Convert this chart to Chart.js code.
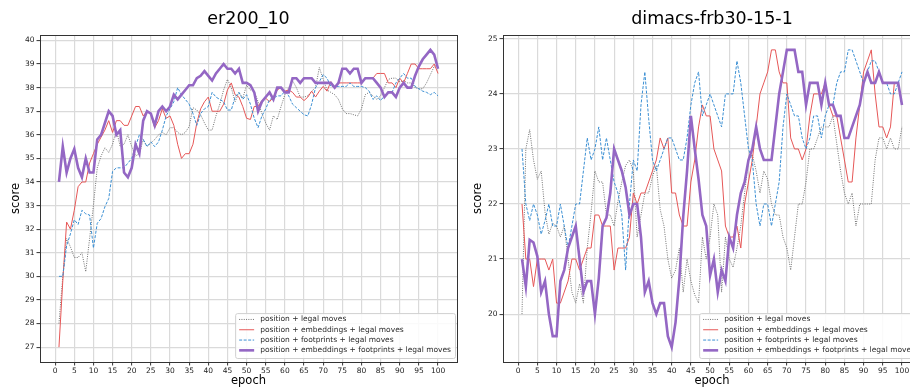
<!DOCTYPE html>
<html>
<head>
<meta charset="utf-8">
<script src="https://cdn.jsdelivr.net/npm/chart.js"></script>
<style>
  html, body { margin: 0; padding: 0; background: #fff; }
  #wrap { position: relative; width: 910px; height: 390px; overflow: hidden; }
  canvas { position: absolute; top: 0; }
</style>
</head>
<body>
<div id="wrap">
  <canvas id="left" width="460" height="390" style="left:0"></canvas>
  <canvas id="right" width="464" height="390" style="left:460px"></canvas>
</div>
<script>
// epochs 1..100
const epochs = [1,2,3,4,5,6,7,8,9,10,11,12,13,14,15,16,17,18,19,20,
  21,22,23,24,25,26,27,28,29,30,31,32,33,34,35,36,37,38,39,40,
  41,42,43,44,45,46,47,48,49,50,51,52,53,54,55,56,57,58,59,60,
  61,62,63,64,65,66,67,68,69,70,71,72,73,74,75,76,77,78,79,80,
  81,82,83,84,85,86,87,88,89,90,91,92,93,94,95,96,97,98,99,100];

const seriesNames = [
  'position + legal moves',
  'position + embeddings + legal moves',
  'position + footprints + legal moves',
  'position + embeddings + footprints + legal moves'
];

const xTicks = [0,5,10,15,20,25,30,35,40,45,50,55,60,65,70,75,80,85,90,95,100];
const erTicks = [27,28,29,30,31,32,33,34,35,36,37,38,39,40];
const frbTicks = [20,21,22,23,24,25];

// er200_10
const erPos = [28.0,30.0,31.6,31.25,30.8,30.8,31.0,30.2,31.6,33.0,
  34.6,35.1,35.45,35.25,35.6,36.2,35.5,35.6,36.0,35.5,
  35.1,35.2,35.8,35.5,35.65,35.8,36.0,36.1,36.0,36.3,
  36.3,36.1,36.0,36.1,36.35,37.15,37.05,36.85,36.5,36.2,
  36.2,36.8,37.3,37.9,38.35,38.0,37.4,37.8,37.55,38.1,
  37.9,37.85,37.4,36.9,36.5,36.2,36.8,36.65,37.2,37.7,
  38.0,38.3,38.0,37.6,37.6,37.65,37.85,38.0,38.85,38.35,
  37.9,37.8,37.7,37.5,37.1,36.9,36.9,36.85,36.8,37.1,
  37.7,37.8,37.65,37.5,37.65,38.0,38.35,38.4,38.4,38.25,
  38.3,38.2,38.2,38.0,37.95,37.95,38.2,38.55,38.9,39.0];
const erPosEmb = [27.0,29.8,32.3,32.0,32.8,33.8,34.0,34.0,34.8,35.2,
  35.6,35.9,36.2,36.6,36.1,36.6,36.6,36.4,36.4,36.8,
  37.2,37.2,36.8,37.0,36.9,36.3,36.6,37.1,36.7,36.8,
  36.4,35.6,35.0,35.2,35.2,35.6,36.5,37.1,37.4,37.6,
  37.0,37.0,37.0,37.3,37.9,38.2,37.7,37.6,37.2,36.7,
  36.65,37.2,37.2,37.45,37.55,37.4,37.6,37.9,38.0,37.85,
  37.9,37.8,37.6,37.6,37.45,37.6,37.85,37.6,37.85,38.05,
  37.85,38.25,38.0,38.2,38.2,38.2,38.2,38.2,38.2,38.2,
  38.4,38.4,38.4,38.6,38.6,38.6,38.2,38.2,38.0,38.4,
  38.2,38.6,39.0,39.0,38.8,38.8,38.8,38.8,39.0,38.6];
const erPosFoot = [30.0,30.0,31.3,31.8,32.4,32.2,32.8,32.65,32.6,31.2,
  32.25,32.45,32.95,33.3,34.45,34.6,34.6,34.6,34.8,35.0,
  35.5,36.0,35.8,35.5,35.7,35.5,35.7,36.2,36.8,37.1,
  37.4,38.0,37.7,37.5,37.3,36.9,36.4,36.9,37.1,37.2,
  37.8,37.6,37.5,37.4,37.05,37.05,37.6,37.8,37.5,37.7,
  37.3,36.7,36.3,36.8,37.1,37.5,37.55,37.65,37.65,37.85,
  37.65,37.3,37.15,37.0,36.85,36.8,37.3,38.0,38.25,38.55,
  38.4,38.05,38.05,38.05,38.05,38.05,38.2,38.05,38.05,38.05,
  38.0,37.85,37.5,37.65,37.45,37.65,37.8,37.8,38.2,38.4,
  38.6,38.4,38.4,38.05,37.95,37.85,37.8,37.7,37.8,37.65];
const erPosEmbFoot = [34.0,35.5,34.4,35.0,35.4,34.6,34.2,35.0,34.4,34.4,
  35.8,36.0,36.5,37.0,36.8,36.0,36.2,34.4,34.2,34.6,
  35.6,35.2,36.6,37.0,36.9,36.4,37.0,37.2,37.0,37.2,
  37.7,37.5,37.7,37.9,38.1,38.1,38.4,38.5,38.7,38.5,
  38.3,38.6,38.8,39.0,38.8,38.8,38.6,38.8,38.2,38.2,
  38.1,37.8,37.0,37.4,37.6,37.8,37.5,38.0,38.0,37.8,
  37.8,38.4,38.4,38.2,38.4,38.4,38.4,38.2,38.2,38.2,
  38.2,38.2,38.0,38.2,38.8,38.8,38.6,38.8,38.8,38.2,
  38.4,38.4,38.4,38.2,38.0,37.6,37.8,37.8,37.6,38.0,
  38.2,38.0,38.0,38.5,38.9,39.2,39.4,39.6,39.4,38.8];

// dimacs-frb30-15-1
const frbPos = [20.0,23.0,23.35,22.8,22.45,22.6,21.85,21.45,21.65,21.6,
  21.4,21.6,21.0,20.4,20.2,20.55,20.2,21.2,21.85,22.6,
  22.4,22.4,21.8,21.8,21.6,22.05,22.4,22.7,22.8,22.6,
  21.4,21.8,22.2,22.2,22.5,22.7,21.9,21.6,21.0,20.65,
  20.8,21.2,20.4,21.0,20.6,20.35,20.2,21.4,21.0,21.4,
  22.0,21.8,20.4,21.4,21.0,20.85,21.2,21.6,22.2,22.8,
  22.9,22.6,22.2,22.6,22.45,22.0,21.8,21.8,21.4,21.2,
  20.8,21.4,22.0,22.0,22.4,23.0,23.0,23.2,23.4,23.4,
  23.4,23.6,23.1,22.6,22.2,22.0,22.2,21.6,22.0,22.0,
  22.0,22.0,22.8,23.2,23.2,23.0,23.2,23.0,23.0,23.4];
const frbPosEmb = [22.0,21.0,21.0,20.5,21.0,21.0,21.0,20.8,21.0,20.2,
  20.2,20.4,20.6,21.0,21.0,20.8,21.0,21.2,21.2,21.8,
  21.8,21.6,21.6,21.6,20.8,21.2,21.2,21.2,21.4,22.2,
  22.0,22.2,22.2,22.4,22.6,22.8,23.2,23.0,23.2,22.2,
  22.2,21.8,21.6,21.6,22.4,22.8,23.4,23.8,23.6,23.6,
  23.0,22.8,22.6,21.6,21.4,21.4,21.6,21.2,22.0,22.4,
  22.8,23.4,24.0,24.2,24.4,24.8,24.8,24.4,24.2,24.2,
  23.2,23.0,23.0,22.8,23.0,23.6,24.0,24.0,24.0,24.2,
  23.8,23.6,23.6,23.2,22.8,22.4,22.4,23.2,23.8,24.4,
  24.6,24.8,24.0,23.4,23.4,23.2,23.4,24.2,24.2,23.8];
const frbPosFoot = [23.0,22.0,21.7,22.0,21.8,21.45,21.7,22.0,21.6,21.6,
  22.0,21.6,21.2,21.6,22.0,22.0,22.6,23.2,22.8,23.0,
  23.4,22.8,23.2,22.8,22.4,22.2,21.8,20.8,22.0,22.8,
  22.6,23.8,24.4,23.55,22.8,22.6,22.8,23.0,23.2,23.2,
  23.0,22.8,22.8,23.2,23.8,24.2,24.4,23.6,23.8,24.0,
  23.8,23.6,23.4,24.0,24.0,24.0,24.6,24.2,23.6,23.0,
  22.8,22.0,21.6,22.0,22.0,21.6,22.0,22.4,23.4,24.0,
  23.8,23.6,23.6,23.2,23.0,23.2,23.6,23.6,23.2,23.6,
  23.8,23.8,24.2,24.4,24.4,24.8,24.8,24.6,24.4,24.2,
  24.4,24.6,24.6,24.4,24.2,24.2,24.0,24.0,24.2,24.4];
const frbPosEmbFoot = [21.0,20.5,21.35,21.3,21.05,20.4,20.6,20.0,19.6,19.6,
  20.6,20.8,21.2,21.4,21.6,21.0,20.4,20.6,20.6,20.0,
  20.65,21.6,21.75,22.2,23.0,22.8,22.6,22.3,21.8,22.0,
  22.0,21.4,20.4,20.6,20.2,20.0,20.2,20.2,19.6,19.4,
  19.85,20.65,21.77,22.6,23.6,23.0,22.45,21.8,21.6,20.7,
  21.0,20.4,20.8,20.6,21.4,21.2,21.8,22.2,22.4,22.8,
  23.0,23.4,23.0,22.8,22.8,22.8,23.4,24.0,24.4,24.8,
  24.8,24.8,24.4,24.4,23.8,24.2,24.2,24.2,23.8,24.2,
  23.8,23.8,23.6,23.6,23.2,23.2,23.4,23.6,23.8,24.2,
  24.4,24.2,24.2,24.4,24.2,24.2,24.2,24.2,24.2,23.8];

const FONT = '"DejaVu Sans", sans-serif';

// khung truc (4 canh nhu matplotlib)
const frame = {
  id: 'frame',
  afterDatasetsDraw(chart) {
    const a = chart.chartArea, ctx = chart.ctx;
    ctx.save();
    ctx.strokeStyle = '#333';
    ctx.lineWidth = 1;
    ctx.strokeRect(Math.round(a.left) + 0.5, Math.round(a.top) + 0.5,
      Math.round(a.right - a.left), Math.round(a.bottom - a.top));
    ctx.restore();
  }
};

// chu thich o goc duoi phai
const boxLegend = {
  id: 'boxLegend',
  afterDraw(chart) {
    const ctx = chart.ctx, a = chart.chartArea;
    const sets = chart.data.datasets;
    ctx.save();
    ctx.font = '7.5px ' + FONT;
    const textW = Math.max(...sets.map(d => ctx.measureText(d.label).width));
    const rowH = 10.3, padX = 4, lineW = 15, gap = 6;
    const w = padX + lineW + gap + textW + padX;
    const h = sets.length * rowH + 3.7;
    const x = a.right - 2 - w, y = a.bottom - 4 - h;
    ctx.beginPath();
    ctx.roundRect(x + 0.5, y + 0.5, w, h, 2);
    ctx.fillStyle = 'rgba(255,255,255,0.85)';
    ctx.fill();
    ctx.strokeStyle = '#d0d0d0';
    ctx.lineWidth = 1;
    ctx.stroke();
    sets.forEach((d, i) => {
      const cy = y + 1.2 + rowH * i + rowH / 2;
      ctx.beginPath();
      ctx.setLineDash(d.borderDash || []);
      ctx.lineWidth = d.borderWidth;
      ctx.strokeStyle = d.borderColor;
      ctx.moveTo(x + padX, cy);
      ctx.lineTo(x + padX + lineW, cy);
      ctx.stroke();
      ctx.setLineDash([]);
      ctx.fillStyle = '#2a2a2a';
      ctx.textBaseline = 'middle';
      ctx.fillText(d.label, x + padX + lineW + gap, cy);
    });
    ctx.restore();
  }
};

function points(values) {
  return epochs.map((e, i) => ({x: e, y: values[i]}));
}

function scoreChart(id, title, values, yTicks, yMin, yMax, yWidth, yTitlePad) {
  const styles = [
    {borderColor: '#707070', borderWidth: 1, borderDash: [1, 1.3], order: 3},
    {borderColor: '#e65757', borderWidth: 1, order: 2},
    {borderColor: '#3b8fd3', borderWidth: 1, borderDash: [3, 1.5], order: 1},
    {borderColor: '#9467c4', borderWidth: 2.6, order: 0}
  ];
  const data = {
    datasets: values.map((v, i) => Object.assign({
      label: seriesNames[i],
      data: points(v),
      pointRadius: 0,
      tension: 0,
      fill: false
    }, styles[i]))
  };

  const gridStyle = {color: '#dadada', lineWidth: 1.2, tickColor: '#333', tickWidth: 1, tickLength: 3.5};
  const tickFont = {family: FONT, size: 7.5};

  const config = {
    type: 'line',
    data: data,
    options: {
      responsive: false,
      animation: false,
      layout: {padding: {left: 0, right: 3, top: 0, bottom: 0}},
      plugins: {
        legend: {display: false},
        tooltip: {enabled: false},
        title: {
          display: true,
          text: title,
          fullSize: false,
          color: '#000',
          font: {family: FONT, size: 17.5, weight: 'normal'},
          padding: {top: 8.5, bottom: 5.5}
        }
      },
      scales: {
        x: {
          type: 'linear',
          min: -3.95,
          max: 104.95,
          afterBuildTicks: s => { s.ticks = xTicks.map(v => ({value: v})); },
          afterFit: s => { s.height = 28; },
          grid: gridStyle,
          border: {display: false},
          ticks: {font: tickFont, color: '#222', padding: 1, maxRotation: 0, autoSkip: false},
          title: {display: true, text: 'epoch', color: '#000',
            font: {family: FONT, size: 11.5}, padding: {top: 0, bottom: 2}}
        },
        y: {
          type: 'linear',
          min: yMin,
          max: yMax,
          afterBuildTicks: s => { s.ticks = yTicks.map(v => ({value: v})); },
          afterFit: s => { s.width = yWidth; },
          grid: gridStyle,
          border: {display: false},
          ticks: {font: tickFont, color: '#222', padding: 2},
          title: {display: true, text: 'score', color: '#000',
            font: {family: FONT, size: 11.5}, padding: {top: yTitlePad, bottom: 0}}
        }
      }
    },
    plugins: [frame, boxLegend]
  };

  let ctx = document.getElementById(id).getContext("2d")

  new Chart(ctx, config)
}

scoreChart('left', 'er200_10', [erPos, erPosEmb, erPosFoot, erPosEmbFoot],
  erTicks, 26.37, 40.23, 40, 9.5);
scoreChart('right', 'dimacs-frb30-15-1', [frbPos, frbPosEmb, frbPosFoot, frbPosEmbFoot],
  frbTicks, 19.13, 25.07, 43, 11);
</script>
</body>
</html>
